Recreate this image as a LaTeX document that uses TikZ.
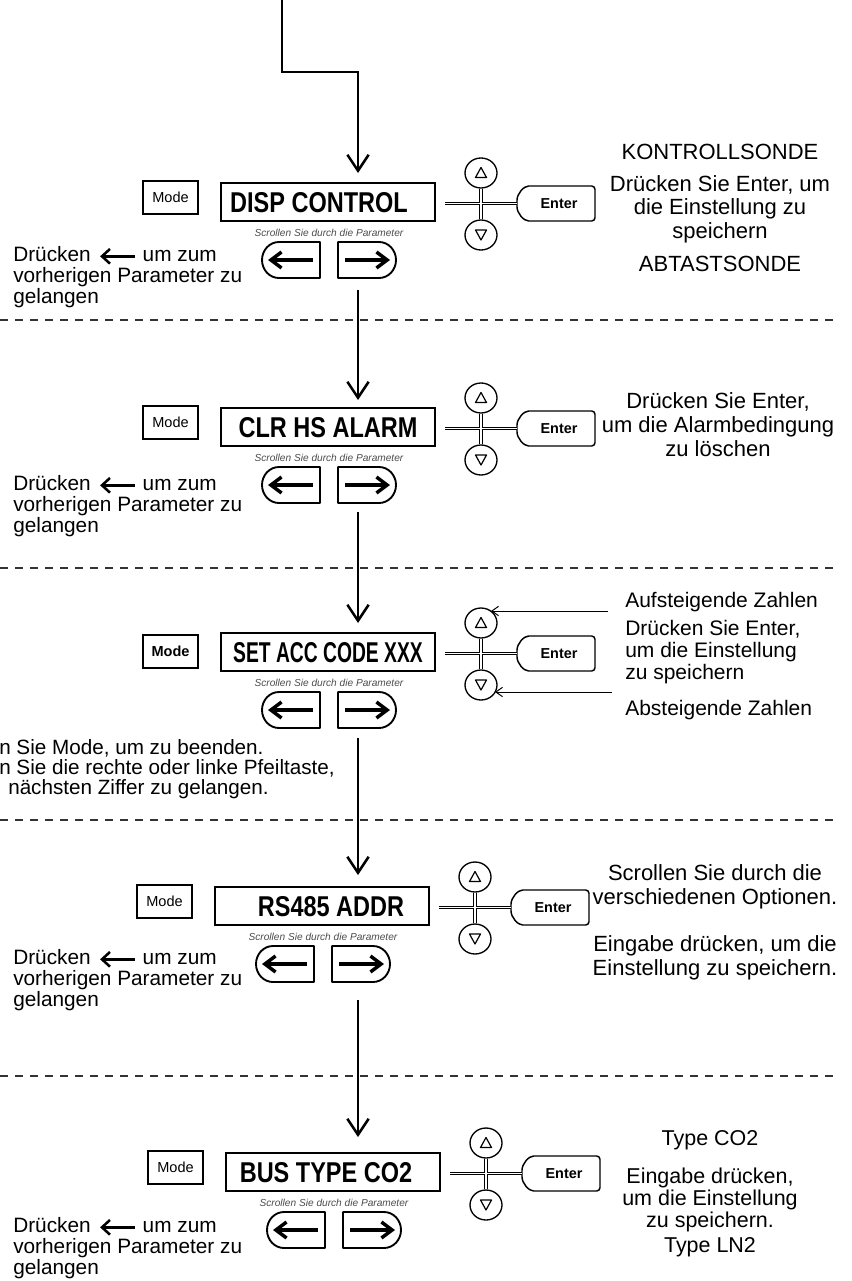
\documentclass[tikz,border=0pt]{standalone}
\usepackage{fontspec}
\setmainfont{Liberation Sans}
\newfontfamily\narrowfont[FakeStretch=0.82]{Liberation Sans}
\usetikzlibrary{arrows.meta,shapes.geometric,calc}

\newcommand{\leftarr}{\tikz[baseline=-3.8pt]\draw[line width=1.9pt,{Straight Barb[length=6pt,width=11pt]}-] (0pt,0pt) -- (26pt,0pt);}

\tikzset{
  flow/.style={line width=1.9pt,-{Straight Barb[length=12pt,width=16pt]}},
  sepline/.style={line width=0.8pt, black!80, dash pattern=on 6pt off 5.25pt},
  modebox/.style={draw, line width=0.9pt, minimum width=41.25pt, minimum height=24.75pt, inner sep=0pt, font=\fontsize{10.9pt}{12pt}\selectfont},
  dispbox/.style={draw, line width=1.7pt, minimum width=160.5pt, minimum height=28.5pt, inner sep=0pt},
  disptext/.style={inner sep=0pt, font=\narrowfont\bfseries\fontsize{21.5pt}{21.5pt}\selectfont},
  scrolltext/.style={inner sep=0pt, text=black!70, font=\itshape\fontsize{7.6pt}{8pt}\selectfont},
  keybtn/.style={line width=1.4pt, line join=round},
  keyarrow/.style={line width=2.6pt, -{Straight Barb[length=8pt,width=12pt]}},
  roundbtn/.style={draw, ellipse, line width=1pt, minimum width=24pt, minimum height=22.5pt, inner sep=0pt},
  tri/.style={line width=0.9pt, line join=round},
  dbl/.style={double, double distance=1.3pt, line width=0.75pt},
  enterbtn/.style={line width=1.1pt, rounded corners=2.5pt},
  entertext/.style={inner sep=0pt, font=\bfseries\fontsize{10.8pt}{11pt}\selectfont},
  lefttext/.style={inner sep=0pt, align=left, anchor=west, font=\fontsize{15.6pt}{15.75pt}\selectfont},
  righttext/.style={inner sep=0pt, align=center, font=\fontsize{16.5pt}{17.6pt}\selectfont},
  thinarrow/.style={line width=0.75pt, -{Straight Barb[length=5pt,width=7pt]}},
}

\newcommand{\mkpanel}[6]{%
\begin{scope}[shift={(#2,#3)}]
\node[modebox,#6] (mode#1) at (170.5,197.5) {Mode};
\node[dispbox] (disp#1) at (328,202) {};
\node[disptext] (dtxt#1) at (#5,203) {#4};
\node[scrolltext] (scroll#1) at (329,233) {Scrollen Sie durch die Parameter};
\draw[keybtn] (320,242) -- (279,242) .. controls (269.61,242) and (262,250.06) .. (262,260)
   .. controls (262,269.94) and (269.61,278) .. (279,278) -- (320,278) -- cycle;
\draw[keybtn] (338,242) -- (379,242) .. controls (388.39,242) and (396,250.06) .. (396,260)
   .. controls (396,269.94) and (388.39,278) .. (379,278) -- (338,278) -- cycle;
\coordinate (ltail#1) at (313,260); \coordinate (lhead#1) at (268,260);
\coordinate (rtail#1) at (345,260); \coordinate (rhead#1) at (390,260);
\draw[keyarrow] (ltail#1) -- (lhead#1);
\draw[keyarrow] (rtail#1) -- (rhead#1);
\node[roundbtn] (up#1) at (481,173) {};
\node[roundbtn] (down#1) at (481,235) {};
\draw[tri] (481,167.5) -- (475.5,177.5) -- (486.5,177.5) -- cycle;
\draw[tri] (481,240) -- (475.5,230) -- (486.5,230) -- cycle;
\draw[enterbtn] (532,221) .. controls (523.72,221) and (517,213.17) .. (517,203.5)
   .. controls (517,193.83) and (523.72,186) .. (532,186) -- (595,186) -- (595,221) -- cycle;
\coordinate (entL#1) at (517,203.5);
\coordinate (dispR#1) at (445,203.5);
\node[entertext] (enter#1) at (559,204) {Enter};
\draw[dbl] (dispR#1) -- (entL#1) (up#1.south) -- (down#1.north);
\end{scope}}

\begin{document}
\begin{tikzpicture}[x=0.75pt,y=-0.75pt]
\useasboundingbox (0,0) rectangle (851,1281);
\fill[white] (0,0) rectangle (851,1281);

% separators
\draw[sepline] (0,320) -- (835,320);
\draw[sepline] (0,568) -- (835,568);
\draw[sepline] (0,820) -- (835,820);
\draw[sepline] (0,1076) -- (835,1076);

% panels
\mkpanel{1}{0}{0}{DISP CONTROL}{319}{}
\mkpanel{2}{0}{225}{CLR HS ALARM}{328}{}
\mkpanel{3}{0}{450}{\scalebox{0.82}[1]{SET ACC CODE XXX}}{328}{line width=1.3pt, yshift=-3pt, font=\bfseries\fontsize{10.9pt}{12pt}\selectfont}
\mkpanel{4}{-6}{704}{RS485 ADDR}{337}{}
\mkpanel{5}{5}{970}{BUS TYPE CO2}{321}{}

% flow
\coordinate (start) at (282,0);
\coordinate (bendA) at (282,72);
\coordinate (bendB) at (358,72);
\coordinate (in1) at (358,173);
\coordinate (out1) at (358,290);
\coordinate (in2) at (358,400);
\coordinate (out2) at (358,512);
\coordinate (in3) at (358,623);
\coordinate (out3) at (358,738);
\coordinate (in4) at (358,875);
\coordinate (out4) at (358,1000);
\coordinate (in5) at (358,1137);
\draw[flow] (start) -- (bendA) -- (bendB) -- (in1);
\draw[flow] (out1) -- (in2);
\draw[flow] (out2) -- (in3);
\draw[flow] (out3) -- (in4);
\draw[flow] (out4) -- (in5);

% left texts
\node[lefttext] (left1) at (13,277) {Drücken\hspace{6pt}\leftarr\hspace{5pt}um zum\\vorherigen Parameter zu\\gelangen};
\node[lefttext] (left2) at (13,506) {Drücken\hspace{6pt}\leftarr\hspace{5pt}um zum\\vorherigen Parameter zu\\gelangen};
\node[lefttext, font=\fontsize{15.5pt}{15pt}\selectfont] (left3) at (-1,769) {n Sie Mode, um zu beenden.\\n Sie die rechte oder linke Pfeiltaste,\\\hspace*{6.75pt}nächsten Ziffer zu gelangen.};
\node[lefttext] (left4) at (13,980) {Drücken\hspace{6pt}\leftarr\hspace{5pt}um zum\\vorherigen Parameter zu\\gelangen};
\node[lefttext] (left5) at (13,1248) {Drücken\hspace{6pt}\leftarr\hspace{5pt}um zum\\vorherigen Parameter zu\\gelangen};

% right texts
\node[righttext] (r1a) at (720,152) {KONTROLLSONDE};
\node[righttext] (r1b) at (720,209) {Drücken Sie Enter, um\\die Einstellung zu\\speichern};
\node[righttext] (r1c) at (720,264) {ABTASTSONDE};

\node[righttext, font=\fontsize{16.5pt}{18pt}\selectfont] (r2) at (718,425) {Drücken Sie Enter,\\um die Alarmbedingung\\zu löschen};

\node[righttext, anchor=west, font=\fontsize{15.75pt}{16.5pt}\selectfont] (r3a) at (625,602) {Aufsteigende Zahlen};
\node[righttext, anchor=west, align=left, font=\fontsize{15.75pt}{16.5pt}\selectfont] (r3b) at (625,652) {Drücken Sie Enter,\\um die Einstellung\\zu speichern};
\node[righttext, anchor=west, font=\fontsize{15.75pt}{16.5pt}\selectfont] (r3c) at (625,710) {Absteigende Zahlen};
\coordinate (a3u) at (608,611);
\coordinate (a3d) at (612,692);
\draw[thinarrow] (a3u) -- ($(up3)+(10,-12)$);
\draw[thinarrow] (a3d) -- ($(down3)+(14,7)$);

\node[righttext, font=\fontsize{16.5pt}{17.8pt}\selectfont] (r4a) at (715,887) {Scrollen Sie durch die\\verschiedenen Optionen.};
\node[righttext, font=\fontsize{16.5pt}{17.8pt}\selectfont] (r4b) at (715,958) {Eingabe drücken, um die\\Einstellung zu speichern.};

\node[righttext, font=\fontsize{16.1pt}{16.2pt}\selectfont] (r5a) at (710,1140) {Type CO2};
\node[righttext, font=\fontsize{16.1pt}{16.2pt}\selectfont] (r5b) at (710,1200) {Eingabe drücken,\\um die Einstellung\\zu speichern.};
\node[righttext, font=\fontsize{16.1pt}{16.2pt}\selectfont] (r5c) at (710,1247) {Type LN2};
\end{tikzpicture}
\end{document}
